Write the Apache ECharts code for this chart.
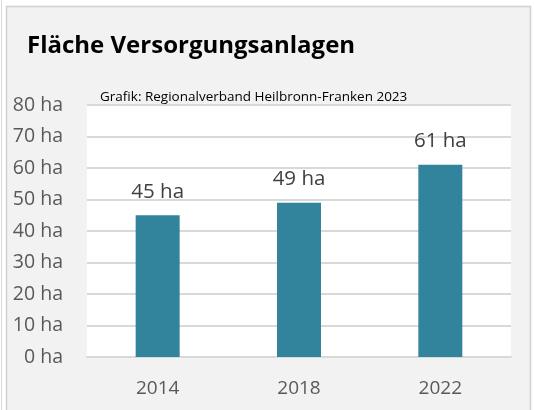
<!DOCTYPE html>
<html>
<head>
<meta charset="utf-8">
<script src="https://cdn.jsdelivr.net/npm/echarts@6/dist/echarts.min.js"></script>
<style>
  html, body { margin: 0; padding: 0; background: #ffffff; }
  #chart { width: 534px; height: 410px; }
</style>
</head>
<body>
<div id="chart"></div>
<script>
// Erhebungsjahre und Fläche der Versorgungsanlagen (ha)
const years = ['2014', '2018', '2022'];
const areaHa = [45, 49, 61];
const yTicks = { min: 0, max: 80, step: 10 };

const FONT = '"Open Sans", "Liberation Sans", sans-serif';

const chart = echarts.init(document.getElementById('chart'), null, { renderer: 'canvas' });

chart.setOption({
  backgroundColor: '#ffffff',
  animation: false,
  graphic: [
    // äußerer Rahmen des Diagrammfelds
    { type: 'line', shape: { x1: 1.5, y1: 0, x2: 1.5, y2: 410 }, style: { stroke: '#d9d9d9', lineWidth: 1 }, z: -10 },
    { type: 'rect', shape: { x: 6.5, y: 6.5, width: 524, height: 420 },
      style: { fill: '#f2f2f2', stroke: '#d0d0d0', lineWidth: 1.5 }, z: -10 },
    { type: 'text', left: 27, top: 34,
      style: { text: 'Fläche Versorgungsanlagen', font: 'bold 24px ' + FONT, fill: '#000000' } },
    { type: 'text', left: 100, top: 90,
      style: { text: 'Grafik: Regionalverband Heilbronn-Franken 2023', font: '13.5px ' + FONT, fill: '#000000' } }
  ],
  grid: {
    left: 87, right: 23, top: 105, bottom: 53,
    show: true, backgroundColor: '#ffffff', borderWidth: 0
  },
  xAxis: {
    type: 'category',
    data: years,
    axisLine: { show: true, lineStyle: { color: '#d9d9d9', width: 2 } },
    axisTick: { show: false },
    axisLabel: { color: '#595959', fontFamily: FONT, fontSize: 19, margin: 22 }
  },
  yAxis: {
    type: 'value',
    min: yTicks.min, max: yTicks.max, interval: yTicks.step,
    axisLine: { show: false },
    axisTick: { show: false },
    splitLine: { lineStyle: { color: '#d9d9d9', width: 2 } },
    axisLabel: {
      color: '#595959', fontFamily: FONT, fontSize: 19.5, margin: 24,
      formatter: v => v + ' ha'
    }
  },
  series: [{
    type: 'bar',
    data: areaHa,
    barWidth: 44,
    itemStyle: { color: '#31849b' },
    label: {
      show: true, position: 'top', distance: 13,
      color: '#404040', fontFamily: FONT, fontSize: 20.5,
      formatter: p => p.value + ' ha'
    }
  }]
});
</script>
</body>
</html>
